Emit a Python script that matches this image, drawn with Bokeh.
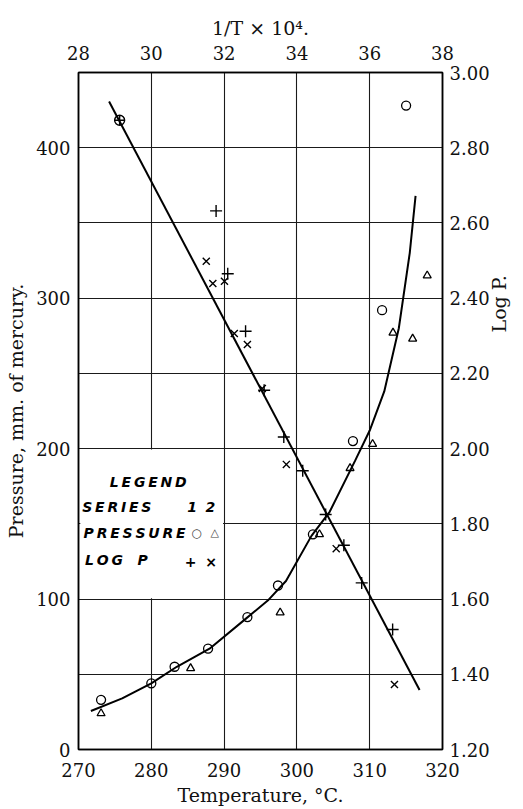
from math import pi
from bokeh.plotting import figure
from bokeh.models import Range1d, LinearAxis, FixedTicker, BoxAnnotation, Label, NumeralTickFormatter
from bokeh.embed import file_html
from bokeh.resources import INLINE

# ---- tick values ----
temp_ticks = [270, 280, 290, 300, 310, 320]
pressure_ticks = [0, 100, 200, 300, 400]
pressure_grid = [0, 50, 100, 150, 200, 250, 300, 350, 400, 450]
logp_ticks = [1.20, 1.40, 1.60, 1.80, 2.00, 2.20, 2.40, 2.60, 2.80, 3.00]
invt_ticks = [28, 30, 32, 34, 36, 38]

# ---- pressure data (bottom / left axes) ----
p1_temp = [273.1, 280.0, 283.2, 287.8, 293.2, 297.4, 302.2, 307.7, 311.7, 315.0]
p1_pres = [33, 44, 55, 67, 88, 109, 143, 205, 292, 428]
p2_temp = [273.1, 285.4, 297.7, 303.1, 307.3, 310.4, 313.2, 315.9, 317.9]
p2_pres = [24, 54, 91, 143, 187, 203, 277, 273, 315]
curve_temp = [271.7, 276.0, 280.0, 283.5, 288.0, 293.0, 296.0, 298.5, 302.0,
              304.5, 308.0, 310.0, 312.0, 314.0, 315.5, 316.3]
curve_pres = [25.6, 34, 44, 55, 67, 87, 99, 112, 142, 158, 192, 212, 238, 280, 330, 368]

# ---- log P data (top / right axes) ----
l1_invt = [31.78, 32.10, 32.59, 33.10, 33.64, 34.16, 34.79, 35.29, 35.78, 36.63]
l1_logp = [2.632, 2.465, 2.312, 2.155, 2.031, 1.941, 1.825, 1.743, 1.643, 1.519]
l2_invt = [31.51, 31.69, 32.01, 32.28, 32.64, 33.05, 33.71, 35.08, 36.68]
l2_logp = [2.498, 2.439, 2.445, 2.306, 2.277, 2.160, 1.958, 1.734, 1.373]
circled_invt = [29.13]
circled_logp = [2.873]
fit_invt = [28.84, 37.37]
fit_logp = [2.923, 1.358]

SERIF = "DejaVu Serif"
NB = "\u00a0"

p = figure(width=523, height=809, output_backend="svg", toolbar_location=None,
           x_range=Range1d(270, 320), y_range=Range1d(0, 450),
           min_border_left=78, min_border_right=74, min_border_top=72, min_border_bottom=60)
p.extra_x_ranges = {"invt": Range1d(28, 38)}
p.extra_y_ranges = {"logp": Range1d(1.2, 3.0)}

p.add_layout(LinearAxis(x_range_name="invt", axis_label="1/T × 10⁴."), "above")
p.add_layout(LinearAxis(y_range_name="logp"), "right")

bottom_ax = p.below[0]
left_ax = p.left[0]
top_ax = p.above[0]
right_ax = p.right[0]

bottom_ax.ticker = FixedTicker(ticks=temp_ticks)
bottom_ax.axis_label = "Temperature, °C."
left_ax.ticker = FixedTicker(ticks=pressure_ticks)
left_ax.axis_label = "Pressure, mm. of mercury."
top_ax.ticker = FixedTicker(ticks=invt_ticks)
right_ax.ticker = FixedTicker(ticks=logp_ticks)
right_ax.formatter = NumeralTickFormatter(format="0.00")

for ax in [bottom_ax, left_ax, top_ax, right_ax]:
    ax.axis_line_color = "black"
    ax.axis_line_width = 1.5
    ax.major_tick_line_color = None
    ax.minor_tick_line_color = None
    ax.major_tick_in = 0
    ax.major_tick_out = 0
    ax.major_label_text_font = SERIF
    ax.major_label_text_font_size = "18px"
    ax.major_label_text_color = "#111111"
    ax.axis_label_text_font = SERIF
    ax.axis_label_text_font_size = "19px"
    ax.axis_label_text_font_style = "normal"
    ax.axis_label_text_color = "#111111"

bottom_ax.major_label_standoff = 13
bottom_ax.axis_label_standoff = 4
left_ax.major_label_standoff = 8
left_ax.axis_label_standoff = 6
top_ax.major_label_standoff = 13
top_ax.axis_label_standoff = 4
right_ax.major_label_standoff = 7
right_ax.axis_label_standoff = 6

# right axis title: reads bottom-to-top and sits above the middle, as in the original
right_title = "Log P."
try:
    right_ax.axis_label_orientation = pi / 2
    right_ax.axis_label = NB * 13 + right_title
except Exception:
    right_ax.axis_label = right_title

p.xgrid.ticker = FixedTicker(ticks=temp_ticks)
p.ygrid.ticker = FixedTicker(ticks=pressure_grid)
for g in [p.xgrid[0], p.ygrid[0]]:
    g.grid_line_color = "#1a1a1a"
    g.grid_line_width = 1.1

p.outline_line_color = "black"
p.outline_line_width = 1.5
p.background_fill_color = "white"
p.border_fill_color = "white"

# fitted curves
p.line(curve_temp, curve_pres, line_color="black", line_width=2)
p.line(fit_invt, fit_logp, line_color="black", line_width=2,
       x_range_name="invt", y_range_name="logp")

# pressure points
p.scatter(p1_temp, p1_pres, marker="circle", size=9, fill_color="white",
          fill_alpha=0, line_color="black", line_width=1.3)
p.scatter(p2_temp, p2_pres, marker="triangle", size=8, fill_alpha=0,
          line_color="black", line_width=1.3)

# log P points
p.scatter(l1_invt, l1_logp, marker="cross", size=12, line_color="black", line_width=1.4,
          x_range_name="invt", y_range_name="logp")
p.scatter(l2_invt, l2_logp, marker="x", size=10, line_color="black", line_width=1.4,
          x_range_name="invt", y_range_name="logp")
p.scatter(circled_invt, circled_logp, marker="circle_cross", size=10, fill_alpha=0,
          line_color="black", line_width=1.4, x_range_name="invt", y_range_name="logp")

# legend block (blank the grid there)
p.add_layout(BoxAnnotation(left=270.25, right=289.85, bottom=100.6, top=199.4,
                           fill_color="white", fill_alpha=1, line_color=None))

LEG = dict(text_font="DejaVu Sans", text_font_style="bold italic",
           text_font_size="14px", text_baseline="middle", text_color="black")
ts = "\u2009"
p.add_layout(Label(x=274.3, y=178, text=ts.join("LEGEND"), **LEG))
p.add_layout(Label(x=270.5, y=161, text=ts.join("SERIES"), **LEG))
p.add_layout(Label(x=285.6, y=161, text="1", text_align="center", **LEG))
p.add_layout(Label(x=288.1, y=161, text="2", text_align="center", **LEG))
p.add_layout(Label(x=270.7, y=144, text=ts.join("PRESSURE"), **LEG))
p.add_layout(Label(x=286.2, y=144, text="\u25CB", text_align="center",
                   text_font="DejaVu Sans", text_font_size="12px", text_baseline="middle"))
p.add_layout(Label(x=288.7, y=144, text="\u25B3", text_align="center",
                   text_font="DejaVu Sans", text_font_size="11px", text_baseline="middle"))
p.add_layout(Label(x=270.9, y=126, text=ts.join("LOG") + NB * 3 + "P", **LEG))
p.add_layout(Label(x=285.4, y=124.5, text="+", text_align="center", **LEG))
p.add_layout(Label(x=288.2, y=124.5, text="×", text_align="center", **LEG))

open("out.html", "w").write(file_html(p, INLINE))
